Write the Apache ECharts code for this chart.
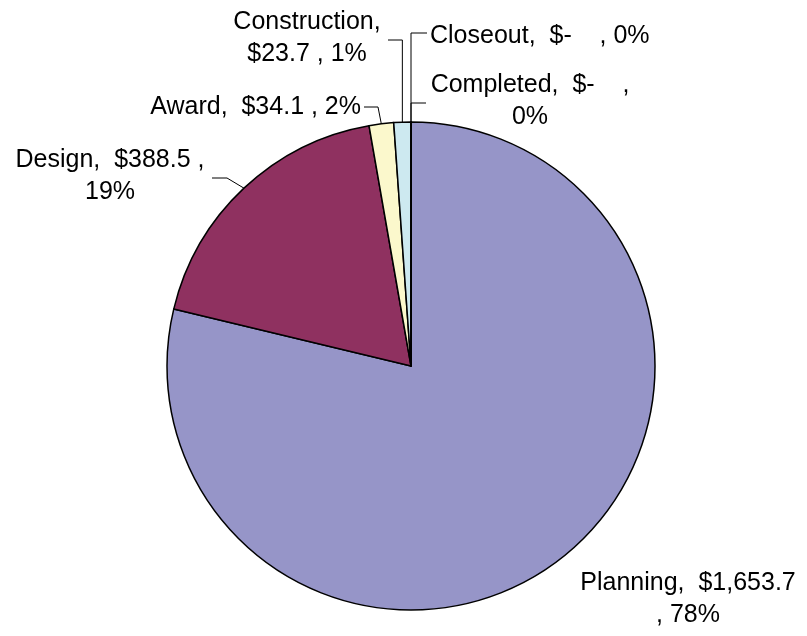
<!DOCTYPE html>
<html>
<head>
<meta charset="utf-8">
<script src="https://cdn.jsdelivr.net/npm/echarts@6/dist/echarts.min.js"></script>
<style>
  html, body { margin: 0; padding: 0; background: #fff; }
  #chart { width: 807px; height: 636px; }
</style>
</head>
<body>
<div id="chart"></div>
<script>
// phases and amounts ($)
const phases = ['Planning', 'Design', 'Award', 'Construction', 'Closeout', 'Completed']
const amounts = [1653.7, 388.5, 34.1, 23.7, 0, 0]
// percentages as printed on the chart
const percents = [78, 19, 2, 1, 0, 0]
const colors = ['#9695c8', '#8f3160', '#fbf8cc', '#cde9f0', '#660066', '#ff8080']

// where the label wraps: after which part (-1 = single line)
// parts: [name + ',', money, ',', pct]
const breakAfter = [1, 2, -1, 0, -1, 2]

// label anchor + leader line for each slice (text placement only)
const labelPlace = [
  { x: 688, y: 599, align: 'center', line: null },
  { x: 110, y: 176, align: 'center', line: (e) => [e, [227, 178], [212, 178]] },
  { x: 361, y: 107, align: 'right', line: (e) => [e, [378, 107], [364, 107]] },
  { x: 307, y: 38, align: 'center', line: (e) => [e, [e[0], 40], [388, 40]] },
  { x: 430, y: 36, align: 'left', line: (e) => [e, [e[0], 33], [427, 33]] },
  { x: 530, y: 101, align: 'center', line: (e) => [e, [e[0], 103], [426, 103]] },
]

function money(v) {
  if (!v) return '$-   '
  return '$' + v.toLocaleString('en-US', { minimumFractionDigits: 1, maximumFractionDigits: 1 })
}

function labelText(i) {
  const parts = [phases[i] + ',', money(amounts[i]), ',', percents[i] + '%']
  const seps = ['  ', ' ', ' ']
  let s = parts[0]
  for (let k = 1; k < parts.length; k++) {
    s += (breakAfter[i] === k - 1 ? '\n' : seps[k - 1]) + parts[k]
  }
  return s
}

const chart = echarts.init(document.getElementById('chart'))

const seriesData = phases.map((name, i) => {
  return {
    name: name,
    value: amounts[i],
    itemStyle: { color: colors[i] },
    labelLine: { show: labelPlace[i].line !== null },
  }
})

chart.setOption({
  animation: false,
  series: [
    {
      type: 'pie',
      center: [411, 366],
      radius: 244,
      startAngle: 90,
      clockwise: true,
      avoidLabelOverlap: false,
      data: seriesData,
      itemStyle: {
        borderColor: '#000',
        borderWidth: 1.5,
      },
      label: {
        show: true,
        position: 'outside',
        width: 300,
        overflow: 'none',
        color: '#000',
        fontSize: 25,
        lineHeight: 32,
        fontFamily: '"Liberation Sans", Arial, sans-serif',
        formatter: (p) => labelText(p.dataIndex),
      },
      labelLine: {
        show: true,
        lineStyle: { color: '#000', width: 1 },
      },
      labelLayout: (params) => {
        const pl = labelPlace[params.dataIndex]
        const out = { x: pl.x, y: pl.y, align: pl.align, verticalAlign: 'middle' }
        if (pl.line && params.labelLinePoints) {
          out.labelLinePoints = pl.line(params.labelLinePoints[0])
        }
        return out
      },
      emphasis: { disabled: true },
    },
  ],
})
</script>
</body>
</html>
